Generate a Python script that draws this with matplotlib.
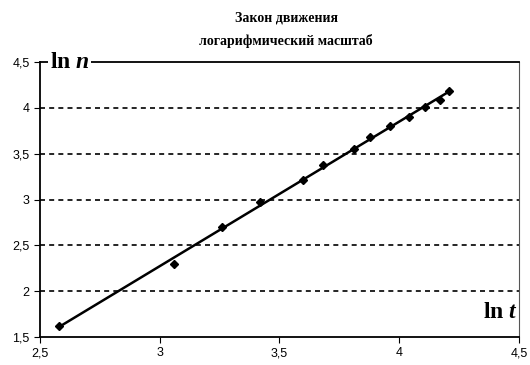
import numpy as np
import matplotlib
matplotlib.use("Agg")
import matplotlib.pyplot as plt
from matplotlib.ticker import FuncFormatter

plt.rcParams["mathtext.fontset"] = "custom"
plt.rcParams["mathtext.rm"] = "Liberation Serif:bold"
plt.rcParams["mathtext.it"] = "Liberation Serif:bold:italic"
plt.rcParams["mathtext.bf"] = "Liberation Serif:bold"
plt.rcParams["mathtext.bfit"] = "Liberation Serif:bold:italic"

ln_t = [2.58, 3.06, 3.26, 3.42, 3.60, 3.68, 3.81, 3.88, 3.96, 4.04, 4.11, 4.17, 4.21]
ln_n = [1.62, 2.30, 2.70, 2.97, 3.21, 3.38, 3.55, 3.68, 3.80, 3.90, 4.01, 4.09, 4.18]
x_ticks = [2.5, 3, 3.5, 4, 4.5]
y_ticks = [1.5, 2, 2.5, 3, 3.5, 4, 4.5]
title_lines = ["Закон движения", "логарифмический масштаб"]

fig = plt.figure(figsize=(5.3, 3.65), dpi=100)
ax = fig.add_axes([0.0755, 0.0767, 0.9035, 0.7533])

ax.set_xlim(2.5, 4.5)
ax.set_ylim(1.5, 4.5)
ax.set_xticks(x_ticks)
ax.set_yticks(y_ticks)
fmt = FuncFormatter(lambda v, p: ("%g" % v).replace(".", ","))
ax.xaxis.set_major_formatter(fmt)
ax.yaxis.set_major_formatter(fmt)
ax.tick_params(labelsize=9, length=4, width=0.8, colors="black")
for lab in ax.get_xticklabels() + ax.get_yticklabels():
    lab.set_family("Liberation Sans")

for y in y_ticks[1:-1]:
    ax.axhline(y, color="black", lw=1.2, ls=(0, (3, 2.5)), zorder=1)

for s in ["left", "bottom", "top"]:
    ax.spines[s].set_linewidth(1.3)
ax.spines["right"].set_linewidth(0.8)
ax.spines["right"].set_color("#555555")

coef = np.polyfit(ln_t, ln_n, 1)
xl = np.array([min(ln_t), max(ln_t)])
ax.plot(xl, np.polyval(coef, xl), color="black", lw=1.8, zorder=3)
ax.plot(ln_t, ln_n, ls="none", marker="D", ms=4.5, color="black", zorder=4)

ax.text(0.02, 1.0, r"ln $\mathit{n}$", transform=ax.transAxes, ha="left", va="center",
        fontsize=17, fontweight="bold", family="Liberation Serif",
        bbox=dict(facecolor="white", edgecolor="none", pad=1), zorder=5)
ax.text(0.998, 0.05, r"ln $\mathit{t}$", transform=ax.transAxes, ha="right", va="bottom",
        fontsize=17, fontweight="bold", family="Liberation Serif", zorder=5)

fig.text(0.54, 0.952, title_lines[0], ha="center", va="center", fontsize=10,
         fontweight="bold", family="Liberation Serif")
fig.text(0.54, 0.888, title_lines[1], ha="center", va="center", fontsize=10,
         fontweight="bold", family="Liberation Serif")

fig.savefig("out.png", dpi=100)
